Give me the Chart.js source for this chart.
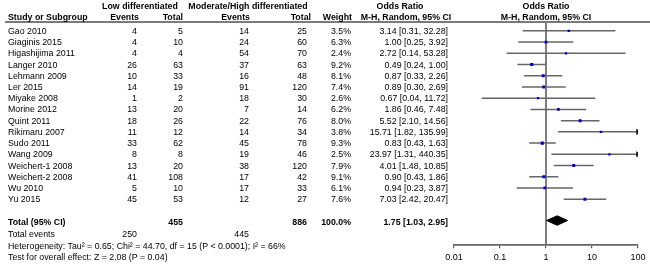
<!DOCTYPE html>
<html>
<head>
<meta charset="utf-8">
<script src="https://cdn.jsdelivr.net/npm/chart.js@4.4.0/dist/chart.umd.min.js"></script>
<style>
    html, body { margin: 0; padding: 0; background: #fff; }
    #wrap { position: relative; width: 650px; height: 269px; overflow: hidden;
            font-family: "Liberation Sans", Arial, sans-serif; font-size: 8.8px; color: #000; }
    #chart { position: absolute; left: 0; top: 0; width: 650px; height: 269px; }
    .t { position: absolute; white-space: nowrap; line-height: 10px; transform: translateY(-50%); }
    .b { font-weight: bold; }
    .c { transform: translate(-50%, -50%); }
    #rule { position: absolute; left: 5px; top: 21px; width: 645px; height: 2px; background: #7a7a7a; }
</style>
</head>
<body>
<div id="wrap">
    <canvas id="chart" width="650" height="269"></canvas>
    <div id="rule"></div>
</div>
<script>
// Study data
const studies = ['Gao 2010', 'Giaginis 2015', 'Higashijima 2011', 'Langer 2010', 'Lehmann 2009', 'Ler 2015',
    'Miyake 2008', 'Morine 2012', 'Quint 2011', 'Rikimaru 2007', 'Sudo 2011', 'Wang 2009',
    'Weichert-1 2008', 'Weichert-2 2008', 'Wu 2010', 'Yu 2015'];
const lowEvents = [4, 4, 4, 26, 10, 14, 1, 13, 18, 11, 33, 8, 13, 41, 5, 45];
const lowTotal = [5, 10, 4, 63, 33, 19, 2, 20, 26, 12, 62, 8, 20, 108, 10, 53];
const modEvents = [14, 24, 54, 37, 16, 91, 18, 7, 22, 14, 45, 19, 38, 17, 17, 12];
const modTotal = [25, 60, 70, 63, 48, 120, 30, 14, 76, 34, 78, 46, 120, 42, 33, 27];
const weights = [3.5, 6.3, 2.4, 9.2, 8.1, 7.4, 2.6, 6.2, 8.0, 3.8, 9.3, 2.5, 7.9, 9.1, 6.1, 7.6];
const oddsRatio = [3.14, 1.00, 2.72, 0.49, 0.87, 0.89, 0.67, 1.86, 5.52, 15.71, 0.83, 23.97, 4.01, 0.90, 0.94, 7.03];
const ciLow = [0.31, 0.25, 0.14, 0.24, 0.33, 0.30, 0.04, 0.46, 2.10, 1.82, 0.43, 1.31, 1.48, 0.43, 0.23, 2.42];
const ciHigh = [32.28, 3.92, 53.28, 1.00, 2.26, 2.69, 11.72, 7.48, 14.56, 135.99, 1.63, 440.35, 10.85, 1.86, 3.87, 20.47];

// Pooled result
const totalLow = 455;
const totalMod = 886;
const totalWeight = '100.0%';
const totalOR = 1.75, totalLo = 1.03, totalHi = 2.95;
const eventsLow = 250, eventsMod = 445;
const heterogeneity = 'Heterogeneity: Tau² = 0.65; Chi² = 44.70, df = 15 (P < 0.0001); I² = 66%';
const overallTest = 'Test for overall effect: Z = 2.08 (P = 0.04)';

// Axis
const xTicks = [0.01, 0.1, 1, 10, 100];
const xMin = 0.01, xMax = 100;
const yMin = -0.79, yMax = 19.1;
const totalRow = 16.9;

const fmt = v => v.toFixed(2);

const datasets = [
    {
        // point estimates, size by weight
        data: oddsRatio.map((v, i) => ({ x: v, y: i })),
        pointStyle: 'rect',
        pointRadius: weights.map(w => 1.4 + w * 0.09),
        backgroundColor: '#0000cc',
        borderWidth: 0
    },
    {
        // arrows for CIs running off the right edge
        data: ciHigh.map((v, i) => v > xMax ? { x: xMax, y: i } : null).filter(p => p),
        pointStyle: 'triangle',
        rotation: 90,
        pointRadius: 3.5,
        backgroundColor: '#111',
        borderWidth: 0
    },
    {
        // pooled diamond
        data: [
            { x: totalLo, y: totalRow },
            { x: totalOR, y: totalRow - 0.42 },
            { x: totalHi, y: totalRow },
            { x: totalOR, y: totalRow + 0.42 },
            { x: totalLo, y: totalRow }
        ],
        showLine: true,
        fill: 'shape',
        borderColor: '#000',
        backgroundColor: '#000',
        borderWidth: 1,
        pointRadius: 0,
        tension: 0
    }
];

// confidence interval lines
studies.forEach((s, i) => {
    datasets.push({
        data: [{ x: ciLow[i], y: i }, { x: Math.min(ciHigh[i], xMax), y: i }],
        showLine: true,
        borderColor: '#666',
        borderWidth: 1.5,
        pointRadius: 0
    });
});

// line of no effect
datasets.push({
    data: [{ x: 1, y: yMin }, { x: 1, y: yMax }],
    showLine: true,
    borderColor: '#707070',
    borderWidth: 1.8,
    pointRadius: 0
});

const chart = new Chart(document.getElementById('chart'), {
    type: 'scatter',
    data: { datasets: datasets },
    options: {
        responsive: false,
        animation: false,
        layout: { padding: { left: 454, right: 12, top: 22, bottom: 2 } },
        plugins: {
            legend: { display: false },
            tooltip: { enabled: false }
        },
        scales: {
            x: {
                type: 'logarithmic',
                min: xMin,
                max: xMax,
                afterBuildTicks: scale => { scale.ticks = xTicks.map(v => ({ value: v })); },
                ticks: {
                    callback: v => xTicks.includes(v) ? String(v) : '',
                    font: { family: '"Liberation Sans", Arial, sans-serif', size: 9 },
                    color: '#000',
                    padding: 4,
                    maxRotation: 0,
                    autoSkip: false
                },
                grid: { drawOnChartArea: false, tickLength: 3, color: '#555', lineWidth: 1.2 },
                border: { color: '#666', width: 1.8 }
            },
            y: {
                type: 'linear',
                reverse: true,
                min: yMin,
                max: yMax,
                display: false
            }
        }
    }
});

// Table text
const wrap = document.getElementById('wrap');
function addText(str, x, y, align, bold) {
    const el = document.createElement('div');
    el.className = 't' + (bold ? ' b' : '') + (align === 'center' ? ' c' : '');
    el.textContent = str;
    el.style.top = y + 'px';
    if (align === 'right') el.style.right = (650 - x) + 'px';
    else el.style.left = x + 'px';
    wrap.appendChild(el);
}

// Columns (right edges unless noted)
const colName = 8, colLowEv = 137, colLowTot = 183, colModEv = 249, colModTot = 307, colWeight = 351, colOR = 448;

// headers
addText('Low differentiated', 140, 6, 'center', true);
addText('Moderate/High differentiated', 248, 6, 'center', true);
addText('Odds Ratio', 400, 6, 'center', true);
addText('Odds Ratio', 546, 6, 'center', true);
addText('Study or Subgroup', colName, 17, 'left', true);
addText('Events', colLowEv + 2, 17, 'right', true);
addText('Total', colLowTot, 17, 'right', true);
addText('Events', colModEv + 1, 17, 'right', true);
addText('Total', colModTot + 4, 17, 'right', true);
addText('Weight', colWeight + 1, 17, 'right', true);
addText('M-H, Random, 95% CI', 406, 17, 'center', true);
addText('M-H, Random, 95% CI', 546, 17, 'center', true);

// study rows
const yScale = chart.scales.y;
studies.forEach((s, i) => {
    const y = yScale.getPixelForValue(i);
    addText(s, colName, y, 'left');
    addText(String(lowEvents[i]), colLowEv, y, 'right');
    addText(String(lowTotal[i]), colLowTot, y, 'right');
    addText(String(modEvents[i]), colModEv, y, 'right');
    addText(String(modTotal[i]), colModTot, y, 'right');
    addText(weights[i].toFixed(1) + '%', colWeight, y, 'right');
    addText(`${fmt(oddsRatio[i])} [${fmt(ciLow[i])}, ${fmt(ciHigh[i])}]`, colOR, y, 'right');
});

// totals
const yt = yScale.getPixelForValue(totalRow);
addText('Total (95% CI)', colName, yt + 1, 'left', true);
addText(String(totalLow), colLowTot, yt + 1, 'right', true);
addText(String(totalMod), colModTot, yt + 1, 'right', true);
addText(totalWeight, colWeight, yt + 1, 'right', true);
addText(`${fmt(totalOR)} [${fmt(totalLo)}, ${fmt(totalHi)}]`, colOR, yt + 1, 'right', true);
addText('Total events', colName, yt + 13.5, 'left');
addText(String(eventsLow), colLowEv, yt + 13.5, 'right');
addText(String(eventsMod), colModEv, yt + 13.5, 'right');
addText(heterogeneity, colName, yt + 25, 'left');
addText(overallTest, colName, yt + 36.5, 'left');
</script>
</body>
</html>
